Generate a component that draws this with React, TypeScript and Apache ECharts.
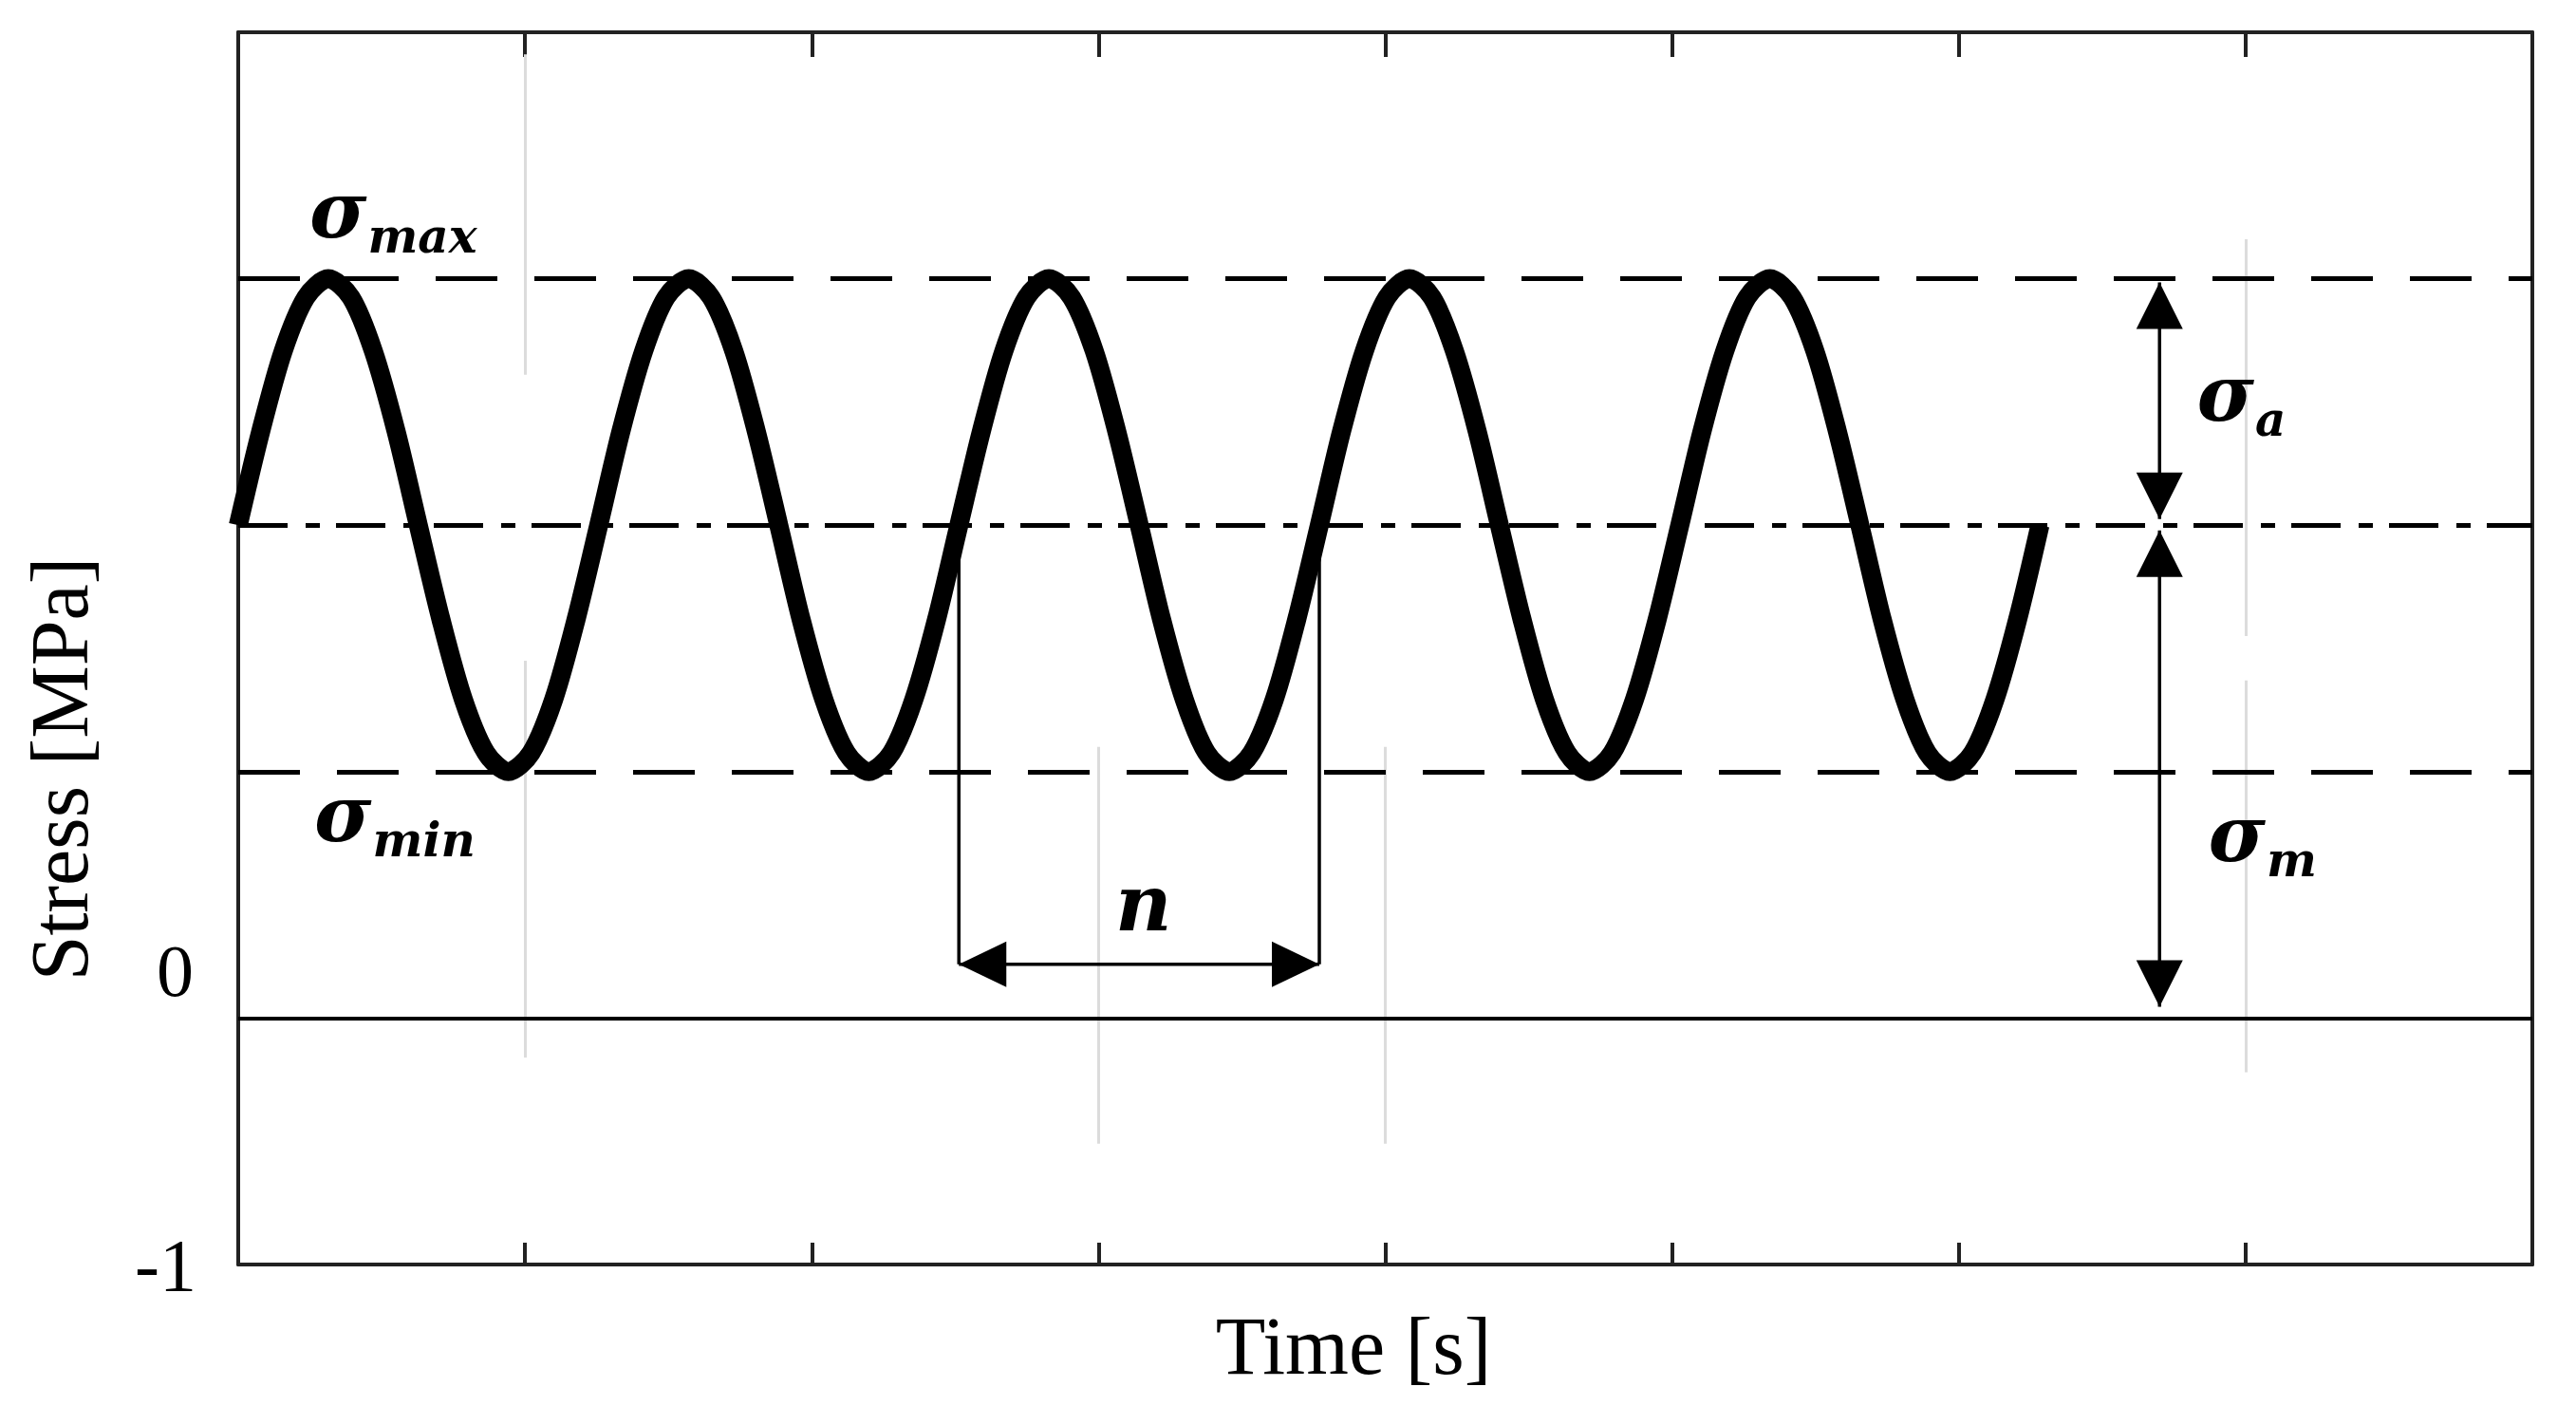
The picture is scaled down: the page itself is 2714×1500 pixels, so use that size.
import React, { useEffect, useRef } from "react";
import * as echarts from "echarts";

const W = 2714;
const H = 1500;

// Time samples [s] and stress values [MPa] (every 1/16 cycle)
const times = [
  0, 0.079, 0.157, 0.236, 0.314, 0.393, 0.471, 0.55, 0.628, 0.707, 0.785, 0.864, 0.942, 1.021,
  1.1, 1.178, 1.257, 1.335, 1.414, 1.492, 1.571, 1.649, 1.728, 1.806, 1.885, 1.963, 2.042,
  2.121, 2.199, 2.278, 2.356, 2.435, 2.513, 2.592, 2.67, 2.749, 2.827, 2.906, 2.985, 3.063,
  3.142, 3.22, 3.299, 3.377, 3.456, 3.534, 3.613, 3.691, 3.77, 3.848, 3.927, 4.006, 4.084,
  4.163, 4.241, 4.32, 4.398, 4.477, 4.555, 4.634, 4.712, 4.791, 4.869, 4.948, 5.027, 5.105,
  5.184, 5.262, 5.341, 5.419, 5.498, 5.576, 5.655, 5.733, 5.812, 5.89, 5.969, 6.048, 6.126,
  6.205, 6.283,
];
const stress = [
  2, 2.383, 2.707, 2.924, 3, 2.924, 2.707, 2.383, 2, 1.617, 1.293, 1.076, 1, 1.076, 1.293, 1.617,
  2, 2.383, 2.707, 2.924, 3, 2.924, 2.707, 2.383, 2, 1.617, 1.293, 1.076, 1, 1.076, 1.293, 1.617,
  2, 2.383, 2.707, 2.924, 3, 2.924, 2.707, 2.383, 2, 1.617, 1.293, 1.076, 1, 1.076, 1.293, 1.617,
  2, 2.383, 2.707, 2.924, 3, 2.924, 2.707, 2.383, 2, 1.617, 1.293, 1.076, 1, 1.076, 1.293, 1.617,
  2, 2.383, 2.707, 2.924, 3, 2.924, 2.707, 2.383, 2, 1.617, 1.293, 1.076, 1, 1.076, 1.293, 1.617,
  2,
];

// Reference levels
const sigmaMax = 3;
const sigmaMean = 2;
const sigmaMin = 1;
const zeroLevel = 0;

// Axis ranges / ticks
const xMin = 0;
const xMax = 8;
const yMin = -1;
const yMax = 4;
const yTickLabels = ["-1", "0"];

// Light vertical grid segments: [time, yFrom, yTo]
const gridSegments = [
  [1, 3.91, 2.61],
  [1, 1.45, -0.16],
  [3, 1.1, -0.51],
  [4, 1.1, -0.51],
  [7, 3.16, 1.55],
  [7, 1.37, -0.22],
];

// Dimension "n" (one cycle)
const nStart = 2.513;
const nEnd = 3.77;
const nLevel = 0.218;
const nTop = 2;

// Amplitude / mean arrows
const arrowTime = 6.7;
const ampArrow = [2.985, 2.025];
const meanArrow = [1.979, 0.046];

// Annotation labels: symbol, subscript, left time, baseline stress
const sigmaLabels = [
  { main: "σ", sub: "max", t: 0.248, y: 3.17 },
  { main: "σ", sub: "min", t: 0.265, y: 0.719 },
  { main: "σ", sub: "a", t: 6.83, y: 2.426 },
  { main: "σ", sub: "m", t: 6.87, y: 0.638 },
];
const nLabel = { text: "n", t: 3.157, y: 0.36 };

const AXIS_FONT = "'Liberation Serif', 'Times New Roman', serif";
const MATH_FONT = "'DejaVu Serif', serif";

function measure(text: string, font: string): number {
  const c = document.createElement("canvas");
  const ctx = c.getContext("2d");
  if (!ctx) return text.length * 40;
  ctx.font = font;
  return ctx.measureText(text).width;
}

export default function App() {
  const ref = useRef<HTMLDivElement>(null);

  useEffect(() => {
    document.body.style.margin = "0";
    if (!ref.current) return;
    const chart = echarts.init(ref.current, null, { renderer: "svg", width: W, height: H });

    const axisLineStyle = { color: "#222", width: 4 };

    const option: any = {
      animation: false,
      backgroundColor: "#ffffff",
      grid: { left: 251, right: 46, top: 34, bottom: 168, containLabel: false },
      xAxis: [
        {
          type: "value",
          min: xMin,
          max: xMax,
          interval: 1,
          position: "bottom",
          axisLine: { show: true, onZero: false, lineStyle: axisLineStyle },
          axisTick: { show: true, inside: true, length: 23, lineStyle: axisLineStyle },
          axisLabel: { show: false },
          splitLine: { show: false },
        },
        {
          type: "value",
          min: xMin,
          max: xMax,
          interval: 1,
          position: "top",
          axisLine: { show: true, onZero: false, lineStyle: axisLineStyle },
          axisTick: { show: true, inside: true, length: 26, lineStyle: axisLineStyle },
          axisLabel: { show: false },
          splitLine: { show: false },
        },
      ],
      yAxis: [
        {
          type: "value",
          min: yMin,
          max: yMax,
          interval: 1,
          position: "left",
          axisLine: { show: true, onZero: false, lineStyle: axisLineStyle },
          axisTick: { show: false },
          splitLine: { show: false },
          axisLabel: {
            show: true,
            margin: 44,
            fontSize: 78,
            fontFamily: AXIS_FONT,
            color: "#000",
            formatter: (v: number) => {
              if (v === -1) return yTickLabels[0];
              if (v === 0) return "{up|" + yTickLabels[1] + "}";
              return "";
            },
            rich: {
              up: {
                fontSize: 78,
                fontFamily: AXIS_FONT,
                color: "#000",
                padding: [0, 3, 100, 0],
              },
            },
          },
        },
        {
          type: "value",
          min: yMin,
          max: yMax,
          interval: 1,
          position: "right",
          axisLine: { show: true, onZero: false, lineStyle: axisLineStyle },
          axisTick: { show: false },
          axisLabel: { show: false },
          splitLine: { show: false },
        },
      ],
      series: [
        {
          name: "grid",
          type: "line",
          data: [],
          z: 1,
          silent: true,
          markLine: {
            silent: true,
            symbol: "none",
            label: { show: false },
            lineStyle: { color: "#dcdcdc", width: 3, type: "solid" },
            data: gridSegments.map((s) => [
              { coord: [s[0], s[1]] },
              { coord: [s[0], s[2]] },
            ]),
          },
        },
        {
          name: "levels",
          type: "line",
          data: [],
          z: 2,
          silent: true,
          markLine: {
            silent: true,
            symbol: "none",
            label: { show: false },
            data: [
              { yAxis: sigmaMax, lineStyle: { color: "#000", width: 5, type: [65, 39] } },
              { yAxis: sigmaMin, lineStyle: { color: "#000", width: 5, type: [65, 39] } },
              { yAxis: sigmaMean, lineStyle: { color: "#000", width: 5, type: [52, 19, 15, 17] } },
              { yAxis: zeroLevel, lineStyle: { color: "#000", width: 4, type: "solid" } },
            ],
          },
        },
        {
          name: "Stress",
          type: "line",
          data: times.map((t, i) => [t, stress[i]]),
          smooth: 0.3,
          symbol: "none",
          z: 5,
          lineStyle: { color: "#000", width: 20, cap: "butt", join: "round" },
        },
      ],
    };

    chart.setOption(option);

    const px = (t: number, y: number) =>
      chart.convertToPixel({ gridIndex: 0 }, [t, y]) as number[];

    const thin = { stroke: "#000", lineWidth: 3.5 };
    const g: any[] = [];
    const line = (a: number[], b: number[]) =>
      g.push({
        type: "line",
        z: 10,
        shape: { x1: a[0], y1: a[1], x2: b[0], y2: b[1] },
        style: thin,
      });
    const tri = (tip: number[], dir: "l" | "r" | "u" | "d", len: number, half: number) => {
      let pts: number[][];
      const [x, y] = tip;
      if (dir === "l") pts = [[x, y], [x + len, y - half], [x + len, y + half]];
      else if (dir === "r") pts = [[x, y], [x - len, y - half], [x - len, y + half]];
      else if (dir === "u") pts = [[x, y], [x - half, y + len], [x + half, y + len]];
      else pts = [[x, y], [x - half, y - len], [x + half, y - len]];
      g.push({ type: "polygon", z: 11, shape: { points: pts }, style: { fill: "#000" } });
    };

    // n dimension
    const nL0 = px(nStart, nTop);
    const nL1 = px(nStart, nLevel);
    const nR0 = px(nEnd, nTop);
    const nR1 = px(nEnd, nLevel);
    line(nL0, nL1);
    line(nR0, nR1);
    line(nL1, nR1);
    tri(nL1, "l", 50, 24);
    tri(nR1, "r", 50, 24);

    // amplitude arrow
    const a0 = px(arrowTime, ampArrow[0]);
    const a1 = px(arrowTime, ampArrow[1]);
    line(a0, a1);
    tri(a0, "u", 49, 24.5);
    tri(a1, "d", 49, 24.5);

    // mean arrow
    const m0 = px(arrowTime, meanArrow[0]);
    const m1 = px(arrowTime, meanArrow[1]);
    line(m0, m1);
    tri(m0, "u", 49, 24.5);
    tri(m1, "d", 49, 24.5);

    // sigma labels
    const mainSize = 82;
    const subSize = 50;
    const mainFont = `italic bold ${mainSize}px ${MATH_FONT}`;
    const sigmaW = measure("σ", mainFont);
    sigmaLabels.forEach((l) => {
      const p = px(l.t, l.y);
      g.push({
        type: "text",
        z: 12,
        x: p[0],
        y: p[1] - 0.346 * mainSize,
        style: {
          text: l.main,
          fontSize: mainSize,
          fontFamily: MATH_FONT,
          fontWeight: "bold",
          fontStyle: "italic",
          fill: "#000",
          align: "left",
          verticalAlign: "middle",
        },
      });
      g.push({
        type: "text",
        z: 12,
        x: p[0] + sigmaW + 1,
        y: p[1] + 16 - 0.346 * subSize,
        style: {
          text: l.sub,
          fontSize: subSize,
          fontFamily: MATH_FONT,
          fontWeight: "bold",
          fontStyle: "italic",
          fill: "#000",
          align: "left",
          verticalAlign: "middle",
        },
      });
    });

    const np = px(nLabel.t, nLabel.y);
    g.push({
      type: "text",
      z: 12,
      x: np[0],
      y: np[1] - 0.346 * mainSize,
      style: {
        text: nLabel.text,
        fontSize: mainSize,
        fontFamily: MATH_FONT,
        fontWeight: "bold",
        fontStyle: "italic",
        fill: "#000",
        align: "center",
        verticalAlign: "middle",
      },
    });

    // axis titles
    g.push({
      type: "text",
      z: 12,
      x: 1426,
      y: 1418,
      style: {
        text: "Time [s]",
        fontSize: 86,
        fontFamily: AXIS_FONT,
        fill: "#000",
        align: "center",
        verticalAlign: "middle",
      },
    });
    g.push({
      type: "text",
      z: 12,
      x: 63,
      y: 810,
      rotation: Math.PI / 2,
      style: {
        text: "Stress [MPa]",
        fontSize: 86,
        fontFamily: AXIS_FONT,
        fill: "#000",
        align: "center",
        verticalAlign: "middle",
      },
    });

    chart.setOption({ graphic: { elements: g } });

    return () => {
      chart.dispose();
    };
  }, []);

  return <div ref={ref} style={{ width: W, height: H, background: "#fff" }} />;
}
